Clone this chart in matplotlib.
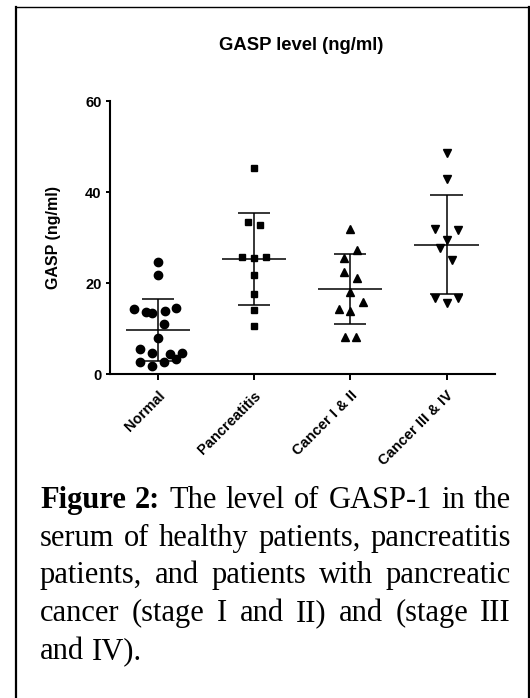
import matplotlib
matplotlib.use("Agg")
import matplotlib.pyplot as plt
from matplotlib.lines import Line2D

plt.rcParams['font.family'] = ['Liberation Sans', 'DejaVu Sans']

# values (ng/ml)
groups = ['Normal', 'Pancreatitis', 'Cancer I & II', 'Cancer III & IV']
normal = [24.6, 21.7, 14.4, 13.7, 13.5, 13.9, 14.6, 11.0, 7.9, 5.5, 4.6, 4.4, 4.7, 2.7, 2.7, 3.2, 1.7]
pancreatitis = [45.3, 33.4, 32.8, 25.7, 25.5, 25.7, 21.7, 17.6, 14.1, 10.6]
cancer_12 = [31.9, 27.3, 25.5, 22.5, 21.1, 18.1, 15.9, 14.2, 13.9, 8.1, 8.1]
cancer_34 = [48.6, 42.9, 31.9, 31.7, 29.5, 27.7, 25.0, 16.7, 15.7, 16.7]

# horizontal scatter of the points within each column
normal_dx = [0, 0, -0.25, -0.12, -0.06, 0.07, 0.19, 0.06, 0, -0.19, -0.06, 0.13, 0.25, -0.19, 0.06, 0.19, -0.06]
pancreatitis_dx = [0, -0.06, 0.06, -0.13, 0, 0.12, 0, 0, 0, 0]
cancer_12_dx = [0, 0.07, -0.07, -0.07, 0.07, 0, 0.13, -0.12, 0, -0.06, 0.06]
cancer_34_dx = [0, 0, -0.12, 0.12, 0, -0.07, 0.06, -0.12, 0, 0.12]

means = [9.7, 25.3, 18.8, 28.5]
sds = [6.9, 10.2, 7.7, 11.0]

W, H = 530, 698
fig = plt.figure(figsize=(W / 100, H / 100), dpi=100)
ax = fig.add_axes([109.9 / W, 1 - 374 / H, 384.7 / W, 272.6 / H])

data = [normal, pancreatitis, cancer_12, cancer_34]
offsets = [normal_dx, pancreatitis_dx, cancer_12_dx, cancer_34_dx]
markers = ['o', 's', '^', 'v']
sizes = [6.0, 5.0, 5.6, 5.6]

for i, (vals, dx) in enumerate(zip(data, offsets)):
    xs = [i + d for d in dx]
    ax.plot(xs, vals, linestyle='none', marker=markers[i], markersize=sizes[i],
            color='black', zorder=3)
    # mean line with SD whiskers
    m, s = means[i], sds[i]
    ax.hlines(m, i - 0.334, i + 0.334, color='black', lw=1.1, zorder=4)
    ax.vlines(i, m - s, m + s, color='black', lw=1.1, zorder=4)
    ax.hlines([m - s, m + s], i - 0.167, i + 0.167, color='black', lw=1.1, zorder=4)

ax.set_xlim(-0.5, 3.5)
ax.set_ylim(0, 60)
ax.set_yticks([0, 20, 40, 60])
ax.set_xticks(range(4))
ax.set_xticklabels(groups, rotation=45, ha='right', va='top', rotation_mode='anchor',
                   fontsize=10.5, fontweight='bold')
for lab in ax.get_yticklabels():
    lab.set_fontweight('bold')
ax.tick_params(axis='y', length=3, width=1.4, labelsize=10.5, pad=3)
ax.tick_params(axis='x', length=4.5, width=1.4, pad=6)
for sp in ['top', 'right']:
    ax.spines[sp].set_visible(False)
for sp in ['left', 'bottom']:
    ax.spines[sp].set_linewidth(1.5)

ax.set_ylabel('GASP (ng/ml)', fontsize=11.5, fontweight='bold')
ax.yaxis.set_label_coords(-0.127, 0.5)

fig.text(301.6 / W, 1 - 45.6 / H, 'GASP level (ng/ml)', ha='center', va='center',
         fontsize=13.3, fontweight='bold')

# frame around the figure panel
def px_line(x0, y0, x1, y1, lw):
    fig.add_artist(Line2D([x0 / W, x1 / W], [1 - y0 / H, 1 - y1 / H],
                          transform=fig.transFigure, color='black', lw=lw))

px_line(16, 7, 16, H, 1.6)
px_line(16, 7, 528.5, 7, 1.0)
px_line(528.5, 7, 528.5, H, 1.6)

# justified caption
caption = [
    [('Figure', True), ('2:', True), ('The', False), ('level', False), ('of', False),
     ('GASP-1', False), ('in', False), ('the', False)],
    [(w, False) for w in 'serum of healthy patients, pancreatitis'.split()],
    [(w, False) for w in 'patients, and patients with pancreatic'.split()],
    [(w, False) for w in 'cancer (stage I and II) and (stage III'.split()],
    [(w, False) for w in 'and IV).'.split()],
]
left_px, right_px = 40, 511
baselines = [508, 545.7, 583.4, 621.1, 658.8]
cap_size = 22

renderer = fig.canvas.get_renderer()
for li, line in enumerate(caption):
    texts = []
    for word, bold in line:
        t = fig.text(0, 1 - baselines[li] / H, word, fontsize=cap_size,
                     family='Liberation Serif', fontweight='bold' if bold else 'normal',
                     va='baseline', ha='left')
        texts.append(t)
    widths = [t.get_window_extent(renderer).width for t in texts]
    if li < len(caption) - 1:
        gap = (right_px - left_px - sum(widths)) / (len(texts) - 1)
    else:
        gap = cap_size * 100 / 72 * 0.25
    x = left_px
    for t, w in zip(texts, widths):
        t.set_x(x / W)
        x += w + gap

fig.savefig('out.png', dpi=100)
